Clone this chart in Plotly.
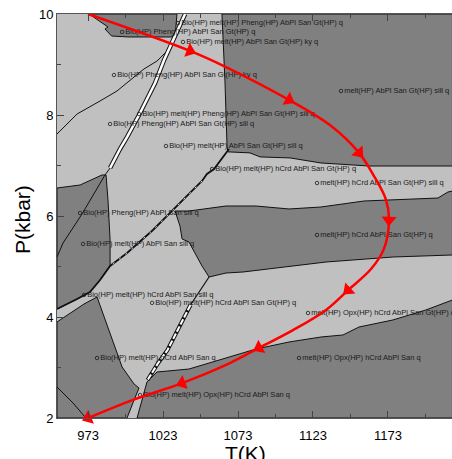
import math
import plotly.graph_objects as go

# ---------------- data ----------------
T_RANGE = [952.3, 1215.7]
P_RANGE = [2.0, 10.0]

# dark-grey stability fields (T in K, P in kbar)
fieldA_T = [973.7, 1032.3, 1031.0, 1000.3, 988.7, 984.3, 986.3, 979.7]
fieldA_P = [10.0, 10.0, 9.545, 9.545, 9.564, 9.703, 9.743, 9.88]

fieldB_T = [1062.3, 1216.0, 1216.0, 1160.3, 1128.3, 1107.7, 1087.7, 1081.0, 1066.3, 1065.7, 1064.3]
fieldB_P = [10.0, 10.0, 6.99, 6.99, 7.05, 7.15, 7.17, 7.25, 7.27, 7.37, 8.67]

fieldC_T = [1031.0, 1040.3, 1065.0, 1085.0, 1107.0, 1128.3, 1157.0, 1206.3, 1213.0, 1216.0,
            1216.0, 1176.3, 1131.7, 1098.3, 1076.3, 1065.0, 1053.7, 1049.0, 1040.3, 1035.7, 1034.3]
fieldC_P = [6.099, 6.099, 6.198, 6.198, 6.139, 6.178, 6.297, 6.356, 6.475, 6.495,
            5.228, 5.188, 5.089, 4.970, 4.891, 4.871, 4.792, 5.010, 5.485, 5.545, 5.802]

fieldE_T = [1005.7, 1009.7, 1012.3, 1019.0, 1040.3, 1058.3, 1085.0, 1107.0, 1128.3, 1143.0,
            1153.7, 1176.3, 1198.3, 1216.0, 1216.0]
fieldE_P = [2.0, 2.455, 2.713, 2.911, 2.970, 3.129, 3.366, 3.505, 3.604, 3.644,
            3.802, 3.941, 4.139, 4.337, 2.0]

fieldF_T = [952.3, 967.7, 982.3, 985.0, 986.3, 987.7, 987.7, 981.0, 974.3, 965.7, 952.3]
fieldF_P = [6.554, 6.614, 6.812, 6.812, 6.317, 5.525, 5.010, 4.733, 4.495, 4.356, 4.158]

fieldG_T = [952.3, 970.3, 979.0, 983.7, 989.7, 995.7, 1003.7, 1007.0, 1003.7, 999.0, 952.3]
fieldG_P = [3.901, 4.257, 4.396, 4.0, 3.525, 3.010, 2.673, 2.594, 2.356, 2.0, 2.0]

# field boundaries (lines)
band1_T = [1037.7, 1030.3, 1023.7, 1017.7, 1012.3, 1007.0, 999.0, 994.3, 987.7]
band1_P = [10.0, 9.525, 9.089, 8.634, 8.297, 8.0, 7.564, 7.327, 6.950]
line1_T = [987.7, 984.3, 969.0, 962.3, 956.3, 952.3]
line1_P = [6.950, 6.812, 6.040, 5.723, 5.465, 5.188]

band2_T = [1067.0, 1057.0, 1052.3, 1049.0, 1040.3, 1016.3, 999.0, 987.7, 981.0, 974.3, 965.7, 952.3]
band2_P = [7.327, 6.931, 6.832, 6.693, 6.436, 5.723, 5.267, 5.010, 4.733, 4.495, 4.356, 4.158]

band3_T = [1053.7, 1048.0, 1041.3, 1034.7, 1026.0, 1019.3, 1012.7]
band3_P = [4.792, 4.535, 4.238, 3.842, 3.347, 3.069, 2.752]

line5_T = [952.3, 965.7, 981.0, 992.3, 1003.7, 1010.3, 1019.0, 1027.7]
line5_P = [7.624, 8.02, 8.277, 8.475, 8.752, 8.911, 9.069, 9.327]

line6_T = [952.3, 963.0, 971.0]
line6_P = [2.614, 2.297, 2.02]

# assemblage labels
label_T = [1033.0, 995.7, 1036.3, 990.3, 1007.0, 987.7, 1025.0, 1055.7, 1141.7, 1125.7,
           967.7, 1125.7, 969.7, 970.3, 1015.7, 1119.7, 979.0, 1113.7, 1007.7]
label_P = [9.82, 9.644, 9.446, 8.792, 8.02, 7.822, 7.386, 6.931, 8.475, 6.653,
           6.059, 5.624, 5.446, 4.436, 4.28, 4.079, 3.188, 3.188, 2.455]
label_text = [
    "Bio(HP) melt(HP) Pheng(HP) AbPl San Gt(HP) q",
    "Bio(HP) Pheng(HP) AbPl San Gt(HP) q",
    "Bio(HP) melt(HP) AbPl San Gt(HP) ky q",
    "Bio(HP) Pheng(HP) AbPl San Gt(HP) ky q",
    "Bio(HP) melt(HP) Pheng(HP) AbPl San Gt(HP) sill q",
    "Bio(HP) Pheng(HP) AbPl San Gt(HP) sill q",
    "Bio(HP) melt(HP) AbPl San Gt(HP) sill q",
    "Bio(HP) melt(HP) hCrd AbPl San Gt(HP) q",
    "melt(HP) AbPl San Gt(HP) sill q",
    "melt(HP) hCrd AbPl San Gt(HP) sill q",
    "Bio(HP) Pheng(HP) AbPl San sill q",
    "melt(HP) hCrd AbPl San Gt(HP) q",
    "Bio(HP) melt(HP) AbPl San sill q",
    "Bio(HP) melt(HP) hCrd AbPl San sill q",
    "Bio(HP) melt(HP) hCrd AbPl San Gt(HP) q",
    "melt(HP) Opx(HP) hCrd AbPl San Gt(HP) q",
    "Bio(HP) melt(HP) hCrd AbPl San q",
    "melt(HP) Opx(HP) hCrd AbPl San q",
    "Bio(HP) melt(HP) Opx(HP) hCrd AbPl San q",
]

# P-T path
path_T = [973.0, 1041.0, 1065.0, 1107.0, 1134.3, 1153.7, 1163.7, 1171.7, 1173.7, 1170.3,
          1161.7, 1146.3, 1131.7, 1109.7, 1087.0, 1065.0, 1035.7, 1003.0, 973.0]
path_P = [10.0, 9.27, 8.95, 8.30, 7.80, 7.25, 6.79, 6.32, 5.92, 5.35,
          4.95, 4.53, 4.14, 3.74, 3.39, 3.05, 2.69, 2.36, 2.0]
arrow_idx = [1, 3, 5, 8, 11, 14, 16, 18]

# ---------------- figure ----------------
W, H = 452, 459
ML, MR, MT, MB = 57, 0, 14, 41
DARK = "#808080"
LIGHT = "#c0c0c0"
FONT = "Liberation Sans, Arial"

fig = go.Figure()

for fT, fP in [(fieldA_T, fieldA_P), (fieldB_T, fieldB_P), (fieldC_T, fieldC_P),
               (fieldE_T, fieldE_P), (fieldF_T, fieldF_P), (fieldG_T, fieldG_P)]:
    fig.add_trace(go.Scatter(x=fT + fT[:1], y=fP + fP[:1], mode="lines", fill="toself",
                             fillcolor=DARK, line=dict(color="#111111", width=1),
                             hoverinfo="skip"))

for lT, lP in [(line1_T, line1_P), (line5_T, line5_P), (line6_T, line6_P)]:
    fig.add_trace(go.Scatter(x=lT, y=lP, mode="lines",
                             line=dict(color="#111111", width=1), hoverinfo="skip"))

# bands (white slivers with black rims)
fig.add_trace(go.Scatter(x=band1_T, y=band1_P, mode="lines",
                         line=dict(color="#111111", width=4.5), hoverinfo="skip"))
fig.add_trace(go.Scatter(x=band1_T, y=band1_P, mode="lines",
                         line=dict(color="white", width=2.5), hoverinfo="skip"))
fig.add_trace(go.Scatter(x=band2_T, y=band2_P, mode="lines",
                         line=dict(color="#111111", width=1.8), hoverinfo="skip"))
fig.add_trace(go.Scatter(x=band2_T[3:8], y=band2_P[3:8], mode="lines",
                         line=dict(color="white", width=0.8, dash="2px,6px"), hoverinfo="skip"))
fig.add_trace(go.Scatter(x=band3_T, y=band3_P, mode="lines",
                         line=dict(color="#111111", width=1.2), hoverinfo="skip"))
fig.add_trace(go.Scatter(x=band3_T[2:], y=band3_P[2:], mode="lines",
                         line=dict(color="#111111", width=4), hoverinfo="skip"))
fig.add_trace(go.Scatter(x=band3_T[2:], y=band3_P[2:], mode="lines",
                         line=dict(color="white", width=2, dash="6px,2px"), hoverinfo="skip"))

# labels
fig.add_trace(go.Scatter(x=label_T, y=label_P, mode="markers+text", text=label_text,
                         textposition="middle right",
                         textfont=dict(family=FONT, size=7.5, color="#1a1a1a"),
                         marker=dict(symbol="circle-open", size=3.5, color="#1a1a1a",
                                     line=dict(width=0.8)),
                         hoverinfo="skip", cliponaxis=True))

# P-T path
fig.add_trace(go.Scatter(x=path_T, y=path_P, mode="lines",
                         line=dict(color="#ff0000", width=2.5, shape="spline", smoothing=1.0),
                         hoverinfo="skip"))

pw = W - ML - MR
ph = H - MT - MB
sx = pw / (T_RANGE[1] - T_RANGE[0])
sy = ph / (P_RANGE[1] - P_RANGE[0])
ax_T, ax_P, ax_ang = [], [], []
for i in arrow_idx:
    a = max(i - 1, 0)
    b = min(i + 1, len(path_T) - 1)
    dx = (path_T[b] - path_T[a]) * sx
    dy = -(path_P[b] - path_P[a]) * sy
    ax_T.append(path_T[i])
    ax_P.append(path_P[i])
    ax_ang.append(math.degrees(math.atan2(dx, -dy)))
fig.add_trace(go.Scatter(x=ax_T, y=ax_P, mode="markers",
                         marker=dict(symbol="triangle-up", size=13, color="#ff0000",
                                     angle=ax_ang, line=dict(width=0)),
                         hoverinfo="skip", cliponaxis=False))

axis_font = dict(family=FONT, size=13, color="black")
fig.update_layout(
    width=W, height=H,
    margin=dict(l=ML, r=MR, t=MT, b=MB, pad=0),
    paper_bgcolor="white", plot_bgcolor=LIGHT,
    showlegend=False, hovermode=False,
    xaxis=dict(range=T_RANGE, tick0=973, dtick=50, ticks="inside", ticklen=7,
               tickcolor="#444", showline=True, linecolor="#555", linewidth=1,
               mirror="ticks", showgrid=False, zeroline=False, tickfont=axis_font,
               ticklabelstandoff=5,
               minor=dict(ticks="inside", ticklen=4, tick0=973, dtick=25, tickcolor="#444")),
    yaxis=dict(range=P_RANGE, tick0=2, dtick=2, ticks="inside", ticklen=7,
               tickcolor="#444", showline=True, linecolor="#555", linewidth=1,
               mirror=False, showgrid=False, zeroline=False, tickfont=axis_font,
               minor=dict(ticks="inside", ticklen=4, tick0=2, dtick=1, tickcolor="#444")),
    annotations=[
        dict(text="T(K)", xref="paper", yref="paper", x=0.476, y=0, yshift=-35,
             xanchor="center", yanchor="middle", showarrow=False,
             font=dict(family=FONT, size=21, color="black")),
        dict(text="P(kbar)", xref="paper", yref="paper", x=0, y=0.49, xshift=-35,
             xanchor="center", yanchor="middle", textangle=-90, showarrow=False,
             font=dict(family=FONT, size=21, color="black")),
    ],
)

fig.write_html("out.html")
